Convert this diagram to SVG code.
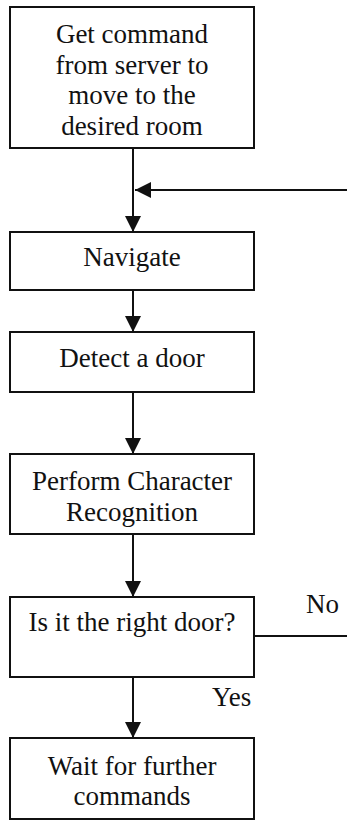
<svg xmlns="http://www.w3.org/2000/svg" width="347" height="821" viewBox="0 0 347 821">
<style>
.box{fill:#fff;stroke:#111;stroke-width:2}
.t{font-family:"Liberation Serif","Times New Roman",serif;font-size:27px;fill:#111;text-anchor:middle}
.l{font-family:"Liberation Serif","Times New Roman",serif;font-size:27px;fill:#111}
.c{stroke:#111;stroke-width:2;fill:none}
</style>
<defs>
<marker id="ah" viewBox="0 0 16 16" refX="16" refY="8" markerWidth="16" markerHeight="16" markerUnits="userSpaceOnUse" orient="auto">
<path d="M0,0 L16,8 L0,16 Z" fill="#111"/>
</marker>
</defs>
<rect width="347" height="821" fill="#fff"/>
<g id="connectors">
<line class="c" x1="133" y1="148" x2="133" y2="232" marker-end="url(#ah)"/>
<line class="c" x1="133" y1="290" x2="133" y2="332" marker-end="url(#ah)"/>
<line class="c" x1="133" y1="392" x2="133" y2="454" marker-end="url(#ah)"/>
<line class="c" x1="133" y1="534" x2="133" y2="597" marker-end="url(#ah)"/>
<line class="c" x1="133" y1="677" x2="133" y2="738" marker-end="url(#ah)"/>
<line class="c" x1="347" y1="190" x2="135" y2="190" marker-end="url(#ah)"/>
<line class="c" x1="254" y1="636" x2="347" y2="636"/>
<text class="l" x="306" y="613">No</text>
<text class="l" x="212" y="706">Yes</text>
</g>
<g id="get-command">
<rect class="box" x="10" y="7" width="244" height="141"/>
<text class="t" x="132" y="43">Get command</text>
<text class="t" x="132" y="74">from server to</text>
<text class="t" x="132" y="104">move to the</text>
<text class="t" x="132" y="135">desired room</text>
</g>
<g id="navigate">
<rect class="box" x="10" y="232" width="244" height="58"/>
<text class="t" x="132" y="266">Navigate</text>
</g>
<g id="detect-door">
<rect class="box" x="10" y="332" width="244" height="60"/>
<text class="t" x="132" y="367">Detect a door</text>
</g>
<g id="perform-ocr">
<rect class="box" x="10" y="454" width="244" height="80"/>
<text class="t" x="132" y="490">Perform Character</text>
<text class="t" x="132" y="521">Recognition</text>
</g>
<g id="right-door">
<rect class="box" x="10" y="597" width="244" height="80"/>
<text class="t" x="132" y="631">Is it the right door?</text>
</g>
<g id="wait">
<rect class="box" x="10" y="738" width="244" height="81"/>
<text class="t" x="132" y="775">Wait for further</text>
<text class="t" x="132" y="805">commands</text>
</g>
</svg>
